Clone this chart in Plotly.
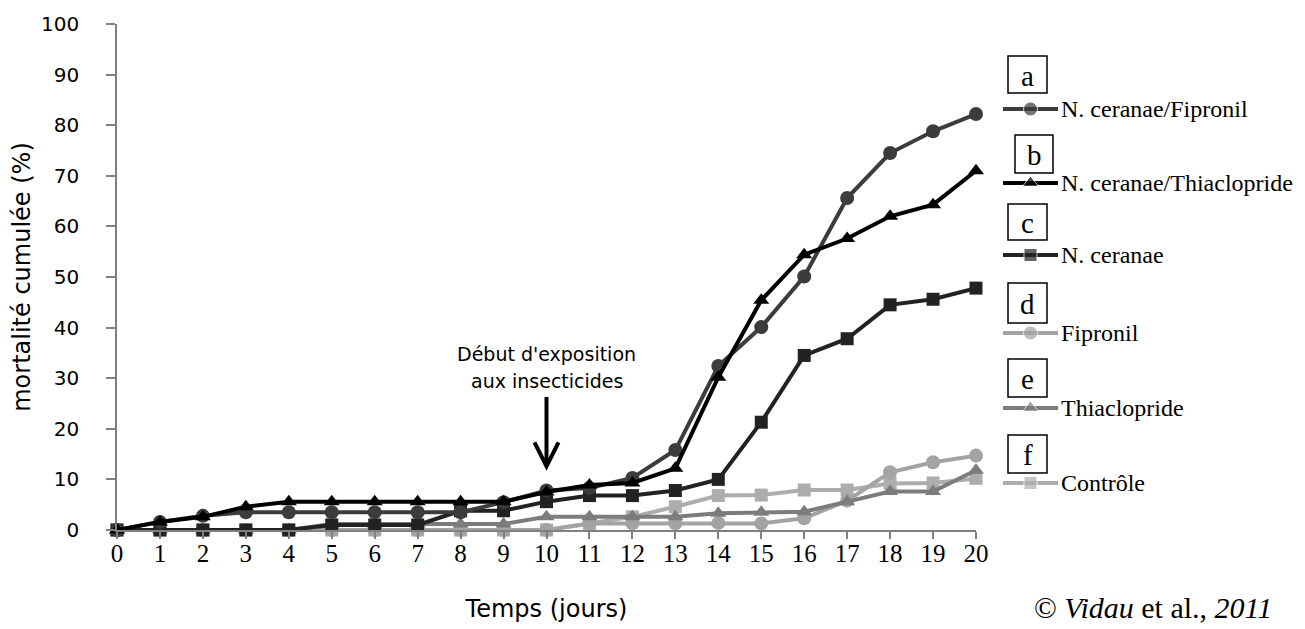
import plotly.graph_objects as go

# ---------------- data ----------------
days = list(range(21))
day_labels = [str(d) for d in days]
y_tick_vals = [0, 10, 20, 30, 40, 50, 60, 70, 80, 90, 100]

series_names = ["N. ceranae/Fipronil", "N. ceranae/Thiaclopride", "N. ceranae",
                "Fipronil", "Thiaclopride", "Contrôle"]
series_letters = ["a", "b", "c", "d", "e", "f"]

nc_fipronil = [0, 1.6, 2.8, 3.5, 3.5, 3.5, 3.5, 3.5, 3.5, 5.5, 7.8, 8.3, 10.3,
               15.8, 32.4, 40.1, 50.1, 65.6, 74.5, 78.8, 82.2]
nc_thiaclo = [0, 1.6, 2.6, 4.6, 5.6, 5.6, 5.6, 5.6, 5.6, 5.6, 7.5, 8.9, 9.3,
              12.2, 30.2, 45.4, 54.4, 57.6, 62.0, 64.3, 71.0]
nc_only = [0, 0, 0, 0, 0, 1.0, 1.0, 1.0, 3.8, 3.8, 5.6, 6.8, 6.8,
           7.8, 10.0, 21.3, 34.5, 37.8, 44.5, 45.6, 47.8]
fipronil = [0, 0, 0, 0, 0, 0, 0, 0, 0, 0, 0, 1.3, 1.3,
            1.3, 1.4, 1.3, 2.3, 5.8, 11.4, 13.4, 14.7]
thiaclo = [0, 0, 0, 0, 0, 1.2, 1.2, 1.2, 1.2, 1.2, 2.6, 2.6, 2.6,
           2.6, 3.3, 3.5, 3.6, 5.6, 7.6, 7.6, 11.8]
controle = [0, 0, 0, 0, 0, 0, 0, 0, 0, 0, 0, 1.3, 2.6,
            4.6, 6.8, 6.9, 7.9, 7.9, 9.2, 9.3, 10.2]

exposure_day = 10
exposure_text = ["Début d'exposition", "aux insecticides"]
credit_text = "© <i>Vidau</i> et al., <i>2011</i>"

# ---------------- styles ----------------
values = [nc_fipronil, nc_thiaclo, nc_only, fipronil, thiaclo, controle]
colors = ["#3c3c3c", "#000000", "#222222", "#a3a3a3", "#7c7c7c", "#adadad"]
symbols = ["circle", "triangle-up", "square", "circle", "triangle-up", "square"]
msizes = [14, 14, 13, 14, 14, 13]
draw_order = [5, 3, 4, 2, 0, 1]

# layout in pixels (page coords; the page body has an 8px margin)
OFF = 8
PAGE_W, PAGE_H = 1305, 629
W, H = PAGE_W - OFF, PAGE_H - OFF
plot_left, plot_top, plot_bottom, plot_right = 117, 24, 530, 976
L = plot_left - OFF
T = plot_top - OFF
B = H - (plot_bottom - OFF)
R = 0
paper_w = W - L - R
paper_h = H - T - B
x_dom_end = (plot_right - plot_left) / paper_w

fig = go.Figure()

for i in draw_order:
    fig.add_trace(go.Scatter(
        x=days, y=values[i], name=series_names[i], mode="lines+markers",
        line=dict(color=colors[i], width=4),
        marker=dict(symbol=symbols[i], size=msizes[i], color=colors[i]),
        cliponaxis=False, showlegend=False, hoverinfo="skip"))

# ---- custom legend on an overlay axis in page-pixel units ----
leg_x0 = 990
leg_line_y = [109, 183, 255, 333, 408, 483]
box_x = [(1008, 1047), (1015, 1053), (1008, 1047), (1008, 1047), (1008, 1047), (1008, 1047)]
box_y = [(56, 93), (135, 173), (204, 240), (283, 323), (359, 397), (435, 473)]

for i in range(6):
    yy = leg_line_y[i]
    fig.add_trace(go.Scatter(
        x=[1003, 1030.5, 1058], y=[yy, yy, yy], mode="lines+markers",
        line=dict(color=colors[i], width=4),
        marker=dict(symbol=symbols[i], size=[0, msizes[i], 0], color=colors[i]),
        xaxis="x2", yaxis="y2", showlegend=False, hoverinfo="skip"))
    fig.add_shape(type="rect", xref="x2", yref="y2",
                  x0=box_x[i][0], x1=box_x[i][1], y0=box_y[i][0], y1=box_y[i][1],
                  line=dict(color="black", width=1.5), fillcolor="rgba(0,0,0,0)")
    fig.add_annotation(xref="x2", yref="y2", x=(box_x[i][0] + box_x[i][1]) / 2,
                       y=(box_y[i][0] + box_y[i][1]) / 2 + 1, text=series_letters[i],
                       showarrow=False, font=dict(family="Liberation Serif", size=29, color="black"))
    fig.add_annotation(xref="x2", yref="y2", x=1059, y=yy, xanchor="left", yanchor="middle",
                       text=series_names[i], showarrow=False,
                       font=dict(family="Liberation Serif", size=24, color="black"))

# ---- exposure arrow & text ----
fig.add_shape(type="line", xref="x", yref="y", x0=exposure_day, x1=exposure_day,
              y0=26.3, y1=12.8, line=dict(color="black", width=4))
fig.add_shape(type="path", xref="x", yref="y",
              path=f"M {exposure_day - 0.28},17.3 L {exposure_day},12.6 L {exposure_day + 0.28},17.3",
              line=dict(color="black", width=4))
fig.add_annotation(xref="x", yref="y", x=exposure_day, y=34.8, text=exposure_text[0],
                   showarrow=False, font=dict(family="DejaVu Sans", size=19, color="black"))
fig.add_annotation(xref="x", yref="y", x=exposure_day, y=29.4, text=exposure_text[1],
                   showarrow=False, font=dict(family="DejaVu Sans", size=19, color="black"))

# ---- credit ----
fig.add_annotation(xref="paper", yref="paper", x=(1032 - plot_left) / paper_w,
                   y=(plot_bottom - 607) / paper_h, xanchor="left", yanchor="middle",
                   text=credit_text, showarrow=False,
                   font=dict(family="Liberation Serif", size=30, color="black"))

fig.update_layout(
    width=W, height=H,
    margin=dict(l=L, r=R, t=T, b=B, pad=0, autoexpand=False),
    paper_bgcolor="white", plot_bgcolor="white",
    showlegend=False,
    xaxis=dict(domain=[0, x_dom_end], range=[0, 20], tickmode="array",
               tickvals=days, ticktext=day_labels, automargin=False,
               showline=True, linecolor="#808080", linewidth=1.5,
               ticks="outside", ticklen=7, tickcolor="#808080", tickwidth=1.5,
               showgrid=False, zeroline=False, ticklabelstandoff=-7,
               tickfont=dict(family="Liberation Serif", size=25, color="black"),
               title=dict(text="Temps (jours)", standoff=34,
                          font=dict(family="DejaVu Sans", size=24, color="black"))),
    yaxis=dict(range=[0, 100], tickmode="array", tickvals=y_tick_vals, automargin=False,
               showline=True, linecolor="#808080", linewidth=1.5,
               ticks="outside", ticklen=9, tickcolor="#808080", tickwidth=1.5,
               showgrid=False, zeroline=False, ticklabelstandoff=23,
               tickfont=dict(family="DejaVu Sans", size=20, color="black"),
               title=dict(text="mortalité cumulée (%)", standoff=8,
                          font=dict(family="DejaVu Sans", size=24, color="black"))),
    xaxis2=dict(domain=[(leg_x0 - plot_left) / paper_w, 1], range=[leg_x0, PAGE_W], anchor="y2",
                visible=False, fixedrange=True),
    yaxis2=dict(domain=[0, 1], range=[plot_bottom, plot_top], anchor="x2",
                visible=False, fixedrange=True),
)

fig.write_html("out.html", config={"displayModeBar": False})
